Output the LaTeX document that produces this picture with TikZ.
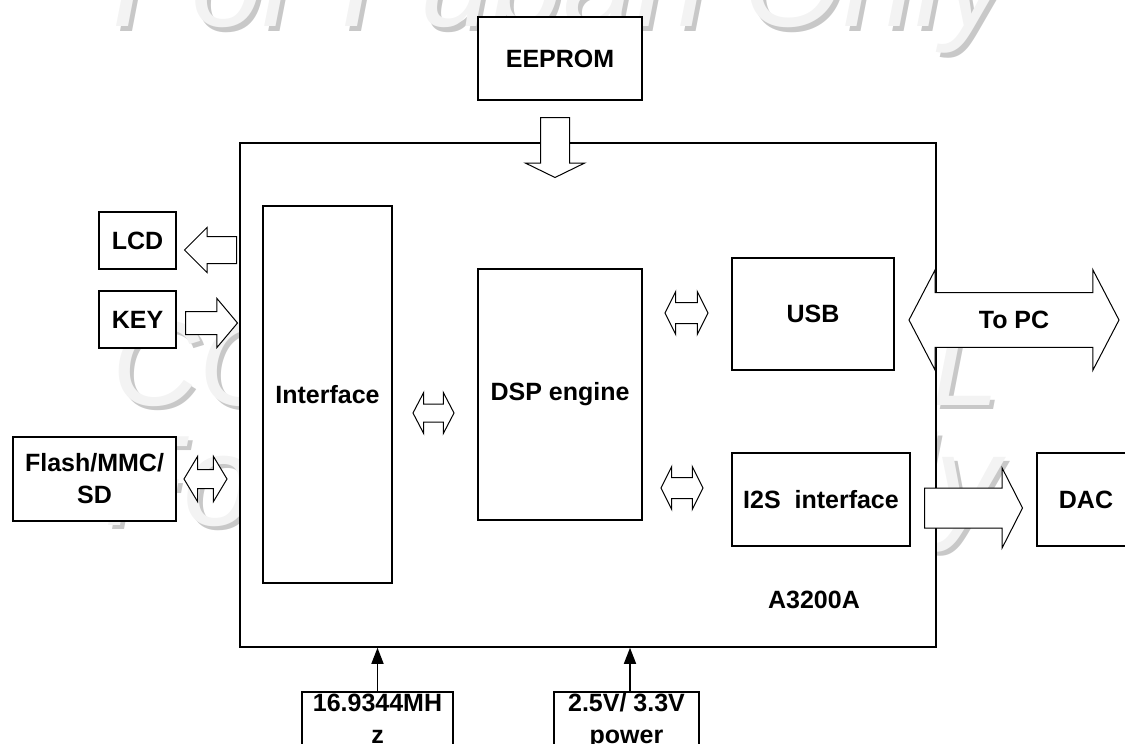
\documentclass[tikz,border=0pt]{standalone}
\usepackage{fontspec}
\setmainfont{Liberation Sans}
\usetikzlibrary{arrows.meta, shapes.arrows, positioning}
\definecolor{wmfill}{HTML}{F3F3F3}
\definecolor{wmshade}{HTML}{C8C8C8}
\newcommand{\boxfont}{\fontsize{25}{32}\selectfont\bfseries}
\newcommand{\wmfont}{\fontsize{120}{120}\selectfont\itshape}
% watermark line: grey shadow first, pale text on top
\newcommand{\stamp}[5]{%
	\node[wmshadow, font=\fontsize{#4}{#4}\selectfont\itshape] (#1s) at ([shift={(4,4)}]#2,#3) {#5};
	\node[wmtext, font=\fontsize{#4}{#4}\selectfont\itshape] (#1) at (#2,#3) {#5};}

\begin{document}
\begin{tikzpicture}[
		x=1pt, y=-1pt,
		>={Triangle[length=16pt,width=12pt]},
		box/.style={
			draw, line width=1.6pt, fill=white, inner sep=0pt,
			align=center, font=\boxfont
		},
		chipbox/.style={draw, line width=1.5pt, fill=white},
		onearrow/.style={
			single arrow, draw, line width=1pt, fill=white,
			single arrow head indent=0pt, anchor=tail
		},
		twoarrow/.style={
			double arrow, draw, line width=1pt, fill=white,
			double arrow head indent=0pt
		},
		feed/.style={->, line width=1.5pt},
		wmtext/.style={anchor=base west, inner sep=0pt, text=wmfill},
		wmshadow/.style={wmtext, text=wmshade}
		]
		
		\useasboundingbox (0,0) rectangle (1125,744);
		\clip (0,0) rectangle (1125,744);
		
		% Watermark behind everything
		\stamp{wmtop}{112}{27}{129}{For Fuban Only}
		\stamp{wmmid}{112}{405}{121}{CONFIDENTIAL}
		\stamp{wmlow}{104}{525}{129}{For Fuban Only}
		
		% Chip outline and its inner blocks
		\node[chipbox, minimum width=696pt, minimum height=504pt] (chip) at (588,395) {};
		\node[box, minimum width=129pt, minimum height=377pt] (iface) at (327.5,394.5) {Interface};
		\node[box, minimum width=164pt, minimum height=251pt] (dsp) at (560,394.5) {DSP engine};
		\node[box, minimum width=162pt, minimum height=112pt] (usb) at (813,314) {USB};
		\node[box, minimum width=178pt, minimum height=93pt] (i2s) at (821,499.5) {I2S\ \ interface};
		\node[font=\boxfont] (chipname) at (814,600) {A3200A};
		
		% Outside blocks
		\node[box, minimum width=164pt, minimum height=83pt] (eeprom) at (560,58.5) {EEPROM};
		\node[box, minimum width=77pt, minimum height=57pt] (lcd) at (137.5,240.5) {LCD};
		\node[box, minimum width=77pt, minimum height=57pt] (key) at (137.5,319.5) {KEY};
		\node[box, minimum width=163pt, minimum height=84pt] (flash) at (94.5,479) {Flash/MMC/\\SD};
		\node[box, minimum width=98pt, minimum height=93pt] (dac) at (1086,499.5) {DAC};
		\node[box, minimum width=151pt, inner ysep=2pt, text depth=50pt, anchor=north] (xtal) at (377.5,691) {16.9344MH\\z};
		\node[box, minimum width=145pt, inner ysep=2pt, text depth=50pt, anchor=north] (power) at (626.5,691) {2.5V/ 3.3V\\power};
		
		% --- Bus arrows ---
		
		% EEPROM into the chip
		\node[onearrow, shape border rotate=270, inner sep=14pt, minimum height=60pt, minimum width=58pt,
		single arrow head extend=15pt, single arrow tip angle=128] (romin) at (555,117) {};
		
		% LCD, KEY and card
		\node[onearrow, shape border rotate=180, inner sep=13pt, minimum height=52pt, minimum width=44pt,
		single arrow head extend=9pt, single arrow tip angle=90] (lcdout) at (237,250) {};
		\node[onearrow, inner sep=11pt, minimum height=52pt, minimum width=48pt,
		single arrow head extend=13pt, single arrow tip angle=100] (keyin) at (185,323) {};
		\node[twoarrow, inner sep=9pt, minimum height=43pt, minimum width=44pt,
		double arrow head extend=13pt, double arrow tip angle=118] (cardbus) at (205.5,479) {};
		
		% Inside the chip
		\node[twoarrow, inner sep=8.5pt, minimum height=41pt, minimum width=40pt,
		double arrow head extend=11.5pt, double arrow tip angle=125] (ifbus) at (433.5,413) {};
		\node[twoarrow, inner sep=10pt, minimum height=43pt, minimum width=42pt,
		double arrow head extend=11pt, double arrow tip angle=127] (usbbus) at (686.5,313) {};
		\node[twoarrow, inner sep=10pt, minimum height=42pt, minimum width=42pt,
		double arrow head extend=11pt, double arrow tip angle=127] (i2sbus) at (682,488) {};
		
		% Out of the chip
		\node[twoarrow, inner xsep=0pt, inner ysep=18pt, minimum height=210pt, minimum width=100pt, font=\boxfont,
		double arrow head extend=23pt, double arrow tip angle=125] (topc) at (1014,320) {To PC};
		\node[onearrow, inner sep=19.5pt, minimum height=98pt, minimum width=79pt,
		single arrow head extend=20pt, single arrow tip angle=126] (dacout) at (924,508) {};
		
		% Clock and supply
		\draw[feed] (xtal.north) -- (xtal.north |- chip.south);
		\draw[feed] ([xshift=3.5pt]power.north) -- ([xshift=3.5pt]power.north |- chip.south);
		
	\end{tikzpicture}
\end{document}
